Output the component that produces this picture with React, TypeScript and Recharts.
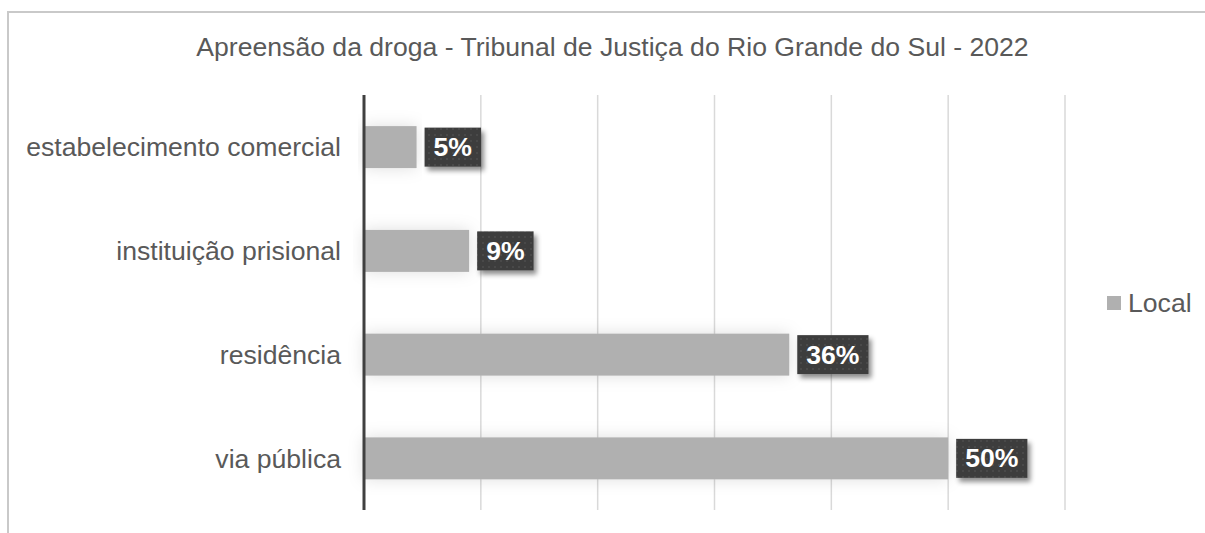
import { BarChart, Bar, XAxis, YAxis, CartesianGrid, LabelList, Legend } from 'recharts'

// Apreensão da droga - TJRS 2022, percent of cases by place of seizure
const categories = ['estabelecimento comercial', 'instituição prisional', 'residência', 'via pública']
const localValues = [4.5, 9.0, 36.4, 50.0]
const localLabels = ['5%', '9%', '36%', '50%']
const xTicks = [0, 10, 20, 30, 40, 50, 60]

const data = categories.map((name, i) => ({
  name,
  local: localValues[i],
  label: localLabels[i],
}))

const FONT = '"Liberation Sans", Arial, sans-serif'
const TEXT = '#595959'
const BAR = '#b0b0b0'
const FS = 26.6

const renderBar = (p: any) => (
  <rect x={p.x} y={p.y} width={p.width} height={p.height} fill={BAR} filter="url(#barGlow)" />
)

const renderValueLabel = (props: any) => {
  const vb = props.viewBox ?? props
  const x = vb.x ?? props.x
  const y = vb.y ?? props.y
  const width = vb.width ?? props.width
  const height = vb.height ?? props.height
  const text = String(props.value)
  // rough bold Arial width: digits .556em, % .889em
  const w = FS * (0.556 * (text.length - 1) + 0.889) + 18
  const h = 39
  const bx = x + width + 8
  const by = y + height / 2 - h / 2
  return (
    <g>
      <rect x={bx} y={by} width={w} height={h} fill="url(#dots)" filter="url(#boxShadow)" />
      <text
        x={bx + w / 2}
        y={by + h / 2}
        textAnchor="middle"
        dominantBaseline="central"
        fill="#ffffff"
        fontFamily={FONT}
        fontSize={FS}
        fontWeight={700}
      >
        {text}
      </text>
    </g>
  )
}

const renderLegend = (props: any) => {
  const item = props.payload?.[0]
  return (
    <div style={{ display: 'flex', alignItems: 'center', fontFamily: FONT, fontSize: FS, lineHeight: '30px', color: TEXT }}>
      <span style={{ width: 14, height: 14, background: item?.color ?? BAR, marginRight: 7, display: 'inline-block' }} />
      {item?.value ?? 'Local'}
    </div>
  )
}

export default function App() {
  return (
    <div style={{ position: 'absolute', left: 0, top: 0, width: 1205, height: 533, overflow: 'hidden', background: '#fff' }}>
      <div
        style={{
          position: 'absolute',
          left: 7,
          top: 11,
          width: 1300,
          height: 600,
          borderLeft: '2px solid #c9c9c9',
          borderTop: '2px solid #c9c9c9',
        }}
      />
      <div
        style={{
          position: 'absolute',
          left: 0,
          top: 34,
          width: 1225,
          textAlign: 'center',
          fontFamily: FONT,
          fontSize: FS,
          lineHeight: `${FS}px`,
          color: TEXT,
          whiteSpace: 'nowrap',
        }}
      >
        Apreensão da droga - Tribunal de Justiça do Rio Grande do Sul - 2022
      </div>
      <div style={{ position: 'absolute', left: 0, top: 0 }}>
        <BarChart
          width={1205}
          height={533}
          data={data}
          layout="vertical"
          margin={{ top: 95, right: 140, bottom: 23, left: 0 }}
          barCategoryGap="30%"
        >
          <defs>
            <pattern id="dots" width="6" height="6" patternUnits="userSpaceOnUse">
              <rect width="6" height="6" fill="#3d3d3d" />
              <circle cx="3" cy="3" r="0.8" fill="#585858" />
            </pattern>
            <filter id="boxShadow" x="-20%" y="-30%" width="150%" height="180%">
              <feDropShadow dx="3" dy="4" stdDeviation="2.5" floodColor="#000" floodOpacity="0.45" />
            </filter>
            <filter id="barGlow" x="-10%" y="-60%" width="120%" height="220%">
              <feDropShadow dx="0" dy="0" stdDeviation="8" floodColor="#000" floodOpacity="0.13" />
            </filter>
          </defs>
          <CartesianGrid horizontal={false} stroke="#d9d9d9" strokeWidth={1.5} />
          <XAxis type="number" domain={[0, 60]} ticks={xTicks} hide />
          <YAxis
            type="category"
            dataKey="name"
            width={364}
            axisLine={{ stroke: '#404040', strokeWidth: 3 }}
            tickLine={false}
            tickSize={0}
            tickMargin={23}
            tick={{ fill: TEXT, fontSize: FS, fontFamily: FONT }}
          />
          <Legend
            layout="vertical"
            align="center"
            verticalAlign="middle"
            content={renderLegend}
            wrapperStyle={{ left: 1107, top: 288, width: 'auto' }}
          />
          <Bar dataKey="local" name="Local" fill={BAR} shape={renderBar} isAnimationActive={false}>
            <LabelList dataKey="label" content={renderValueLabel} />
          </Bar>
        </BarChart>
      </div>
    </div>
  )
}
